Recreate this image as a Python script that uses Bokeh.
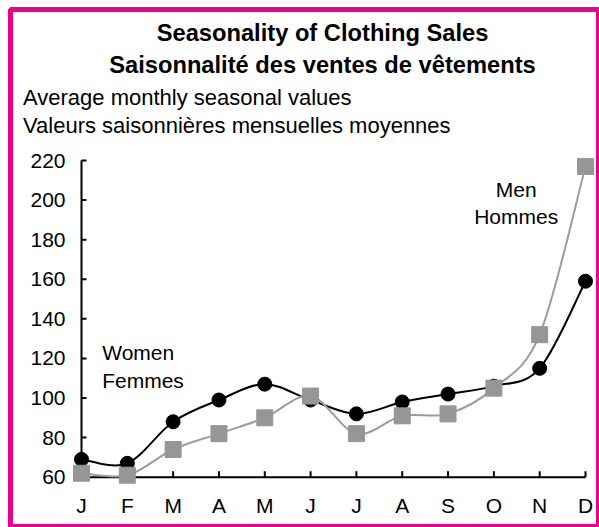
import math
from bokeh.plotting import figure
from bokeh.models import Label, Range1d, ColumnDataSource
from bokeh.core.properties import value
from bokeh.embed import file_html
from bokeh.resources import INLINE

# ---- data ----
months = ["J", "F", "M", "A", "M", "J", "J", "A", "S", "O", "N", "D"]
women = [69, 67, 88, 99, 107, 99, 92, 98, 102, 106, 115, 159]
men = [62, 61, 74, 82, 90, 101, 82, 91, 92, 105, 132, 217]
y_ticks = [60, 80, 100, 120, 140, 160, 180, 200, 220]

title1 = "Seasonality of Clothing Sales"
title2 = "Saisonnalité des ventes de vêtements"
sub1 = "Average monthly seasonal values"
sub2 = "Valeurs saisonnières mensuelles moyennes"
women_lbl = ["Women", "Femmes"]
men_lbl = ["Men", "Hommes"]

x = list(range(len(months)))

FONT = "Liberation Sans"
BLACK = "#000000"
GRAY_LINE = "#9c9c9c"
GRAY_MARK = "#969696"
MAGENTA = "#EC008C"

# ---- layout (canvas pixels) ----
W, H = 599, 527
FL, FT, FR, FB = 10, 9, 1, 1          # frame insets (frame outline = magenta border)
X0_PX, X1_PX = 81.0, 585.0            # where first / last month sit
Y0_PX, Y1_PX = 476.7, 160.0           # where first / last y tick sit
sx = (X1_PX - X0_PX) / (x[-1] - x[0])
sy = (Y0_PX - Y1_PX) / (y_ticks[-1] - y_ticks[0])
x_start = x[0] - (X0_PX - FL) / sx
x_end = x[-1] + ((W - FR) - X1_PX) / sx
y_end = y_ticks[-1] + (Y1_PX - FT) / sy
y_start = y_ticks[0] - ((H - FB) - Y0_PX) / sy


def dx(px):
    return x_start + (px - FL) / sx


def dy(py):
    return y_end - (py - FT) / sy


def smooth_segments(xs, ys, k=1.0 / 6.0):
    n = len(xs)
    d = dict(x0=[], y0=[], x1=[], y1=[], cx0=[], cy0=[], cx1=[], cy1=[])
    for i in range(n - 1):
        a = max(i - 1, 0)
        b = min(i + 2, n - 1)
        d["x0"].append(xs[i]); d["y0"].append(ys[i])
        d["x1"].append(xs[i + 1]); d["y1"].append(ys[i + 1])
        d["cx0"].append(xs[i] + (xs[i + 1] - xs[a]) * k)
        d["cy0"].append(ys[i] + (ys[i + 1] - ys[a]) * k)
        d["cx1"].append(xs[i + 1] - (xs[b] - xs[i]) * k)
        d["cy1"].append(ys[i + 1] - (ys[b] - ys[i]) * k)
    return ColumnDataSource(d)


p = figure(width=W, height=H, title=None,
           x_range=Range1d(x_start, x_end), y_range=Range1d(y_start, y_end),
           output_backend="svg", toolbar_location=None,
           min_border_left=FL, min_border_right=FR,
           min_border_top=FT, min_border_bottom=FB)
p.xaxis.visible = False
p.yaxis.visible = False
p.grid.visible = False
p.background_fill_color = "white"
p.border_fill_color = "white"
# magenta frame around the chart
p.outline_line_color = MAGENTA
p.outline_line_width = 5
p.outline_line_alpha = 1.0

# axis lines at the data origin
p.segment(x0=[x[0], x[0]], y0=[y_ticks[0], y_ticks[0]],
          x1=[x[0], x[-1]], y1=[y_ticks[-1], y_ticks[0]],
          line_color=BLACK, line_width=2)
# inward tick marks
p.ray(x=[x[0]] * len(y_ticks), y=y_ticks, length=5, length_units="screen",
      angle=0, line_color=BLACK, line_width=2)
p.ray(x=x[1:], y=[y_ticks[0]] * (len(x) - 1), length=6, length_units="screen",
      angle=math.pi / 2, line_color=BLACK, line_width=2)

# tick labels
p.text(x=[x[0]] * len(y_ticks), y=y_ticks, text=[str(v) for v in y_ticks],
       x_offset=-16, text_align="right", text_baseline="middle",
       text_font=value(FONT), text_font_size="21px", text_color=BLACK)
p.text(x=x, y=[dy(505.0)] * len(x), text=months,
       text_align="center", text_baseline="middle",
       text_font=value(FONT), text_font_size="21px", text_color=BLACK)

# Women (black)
p.bezier(x0="x0", y0="y0", x1="x1", y1="y1", cx0="cx0", cy0="cy0", cx1="cx1", cy1="cy1",
         source=smooth_segments(x, women), line_color=BLACK, line_width=2)
p.scatter(x, women, marker="circle", size=14, fill_color=BLACK, line_color=BLACK)

# Men (gray)
p.bezier(x0="x0", y0="y0", x1="x1", y1="y1", cx0="cx0", cy0="cy0", cx1="cx1", cy1="cy1",
         source=smooth_segments(x, men), line_color=GRAY_LINE, line_width=2)
p.scatter(x, men, marker="square", size=16, fill_color=GRAY_MARK, line_color=GRAY_MARK)

# series labels
for txt, lx, ly, al in [(women_lbl[0], 101.7, 352.2, "left"), (women_lbl[1], 101.7, 379.5, "left"),
                        (men_lbl[0], 515.7, 188.9, "center"), (men_lbl[1], 515.7, 216.2, "center")]:
    p.add_layout(Label(x=dx(lx), y=dy(ly), text=txt, text_align=al, text_baseline="middle",
                       text_font=FONT, text_font_size="21px", text_color=BLACK))

# titles
for txt, tx, ty, al, style, size in [
        (title1, 322.0, 32.4, "center", "bold", "23.7px"),
        (title2, 322.0, 64.5, "center", "bold", "23.7px"),
        (sub1, 22.5, 97.0, "left", "normal", "22px"),
        (sub2, 22.5, 124.7, "left", "normal", "22px")]:
    p.add_layout(Label(x=dx(tx), y=dy(ty), text=txt,
                       text_align=al, text_baseline="middle", text_font=FONT,
                       text_font_style=style, text_font_size=size, text_color=BLACK))

open("out.html", "w").write(file_html(p, INLINE))
